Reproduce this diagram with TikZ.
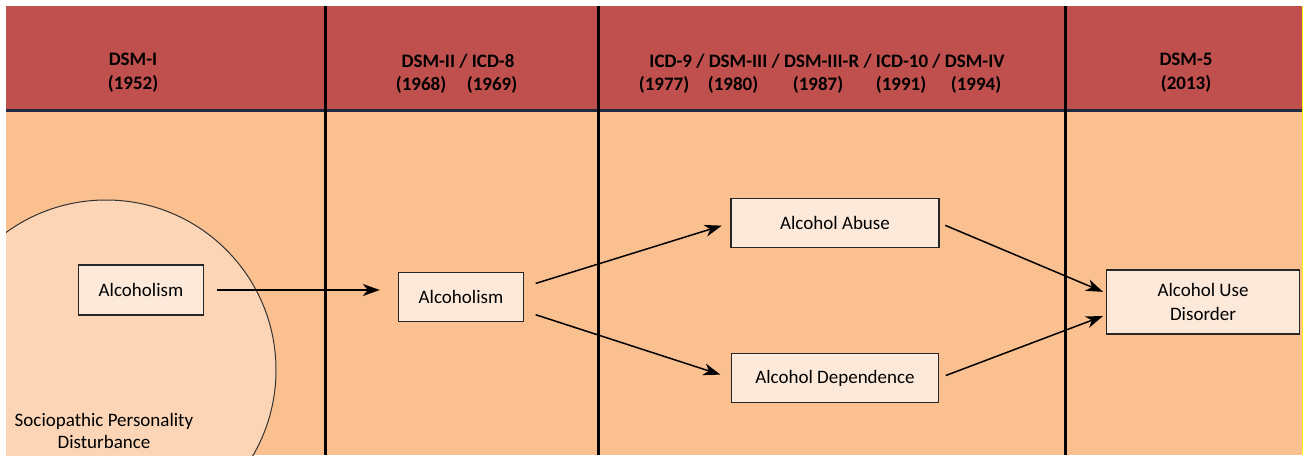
\documentclass[tikz,border=0pt]{standalone}
\usepackage{fontspec}
\setmainfont{Carlito}
\usetikzlibrary{arrows.meta,calc}
\definecolor{hdrred}{HTML}{C0504D}
\definecolor{bodypeach}{HTML}{FAC090}
\definecolor{circpeach}{HTML}{FBD5B5}
\definecolor{boxpeach}{HTML}{FDE9D9}
\definecolor{rulenavy}{HTML}{1F2A40}
\tikzset{
  hdrtext/.style = {font=\fontsize{19}{24}\selectfont\bfseries, align=center, inner sep=0pt},
  termbox/.style = {draw=black!85, line width=1.4pt, fill=boxpeach,
    font=\fontsize{19}{24}\selectfont, align=center, inner sep=0pt},
  arr/.style = {-{Stealth[length=17pt,width=12pt,inset=5pt]}, line width=1.5pt},
  divider/.style = {line width=3pt, black}
}
\begin{document}
\begin{tikzpicture}[x=1pt,y=-1pt]
  \useasboundingbox (0,0) rectangle (1305,455);
  % panels
  \fill[hdrred] (6,6) rectangle (1302,110);
  \fill[bodypeach] (6,111) rectangle (1302,455);
  \draw[line width=3pt, rulenavy] (6,110) -- (1302,110);
  \draw[yellow, line width=1.5pt] (1302.5,6) -- (1302.5,455);
  % circle
  \begin{scope}
    \clip (6,112) rectangle (1302,455);
    \draw[fill=circpeach, draw=black!80, line width=1pt] (106,370) circle (170);
  \end{scope}
  \node[font=\fontsize{19}{22}\selectfont, align=center] (sociopath) at (104,431)
    {Sociopathic Personality\\Disturbance};
  % column dividers
  \foreach \x in {325,598,1065}
    \draw[divider] (\x,6) -- (\x,455);
  % headers
  \node[hdrtext] (dsmi) at (133,73) {DSM-I\\(1952)};
  \node[hdrtext] (dsmii) at (458,61) {DSM-II / ICD-8};
  \foreach \x/\yr in {421/1968,492/1969}
    \node[hdrtext] (y\yr) at (\x,85) {(\yr)};
  \node[hdrtext] (dsmiii) at (827,61) {ICD-9 / DSM-III / DSM-III-R / ICD-10 / DSM-IV};
  \foreach \x/\yr in {664/1977,733/1980,818/1987,901/1991,976/1994}
    \node[hdrtext] (y\yr) at (\x,85) {(\yr)};
  \node[hdrtext] (dsmv) at (1186,73) {DSM-5\\(2013)};
  % terms
  \node[termbox, minimum width=125pt, minimum height=50pt] (alc1) at (141,290) {Alcoholism};
  \node[termbox, minimum width=125pt, minimum height=49pt] (alc2) at (461,297) {Alcoholism};
  \node[termbox, minimum width=208pt, minimum height=49pt] (abuse) at (835,223) {Alcohol Abuse};
  \node[termbox, minimum width=207pt, minimum height=49pt] (depend) at (835,378) {Alcohol Dependence};
  \node[termbox, minimum width=193pt, minimum height=64pt] (aud) at (1203,302) {Alcohol Use\\Disorder};
  % arrows
  \draw[arr, shorten <=13pt, shorten >=18pt] (alc1.east) -- (alc1.east -| alc2.west);
  \draw[arr, shorten <=12pt, shorten >=9pt] ([yshift=10pt]alc2.east) -- (abuse.west);
  \draw[arr, shorten <=12pt, shorten >=11pt] ([yshift=-14pt]alc2.east) -- (depend.west);
  \draw[arr, shorten <=6pt, shorten >=3pt] (abuse.east) -- ([yshift=9pt]aud.west);
  \draw[arr, shorten <=7pt, shorten >=3pt] (depend.east) -- ([yshift=-13pt]aud.west);
\end{tikzpicture}
\end{document}
